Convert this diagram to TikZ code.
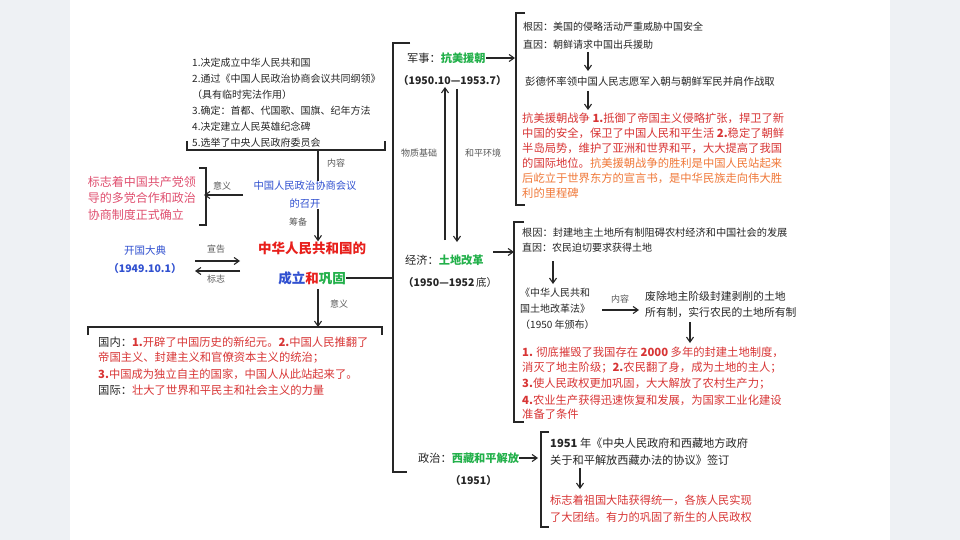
\documentclass[tikz,border=0pt]{standalone}
\usepackage{fontspec}
\setmainfont{Liberation Serif}
\newfontfamily\cjk{Noto Sans CJK SC}
\usetikzlibrary{arrows.meta}
\definecolor{cblue}{HTML}{3050D0}
\definecolor{cred}{HTML}{E8201C}
\definecolor{cpink}{HTML}{E05070}
\definecolor{tred}{HTML}{D83535}
\definecolor{corange}{HTML}{F07838}
\definecolor{cgreen}{HTML}{22B04A}
\definecolor{bgc}{HTML}{EEF1F4}
\begin{document}
\begin{tikzpicture}[x=1pt,y=-1pt,
  t/.style={anchor=west,inner sep=0pt,font=\cjk\fontsize{10}{10}\selectfont,text=black!85},
  r/.style={t,text=tred,font=\cjk\fontsize{11.3}{10}\selectfont},
  lab/.style={inner sep=0pt,font=\cjk\fontsize{9}{10}\selectfont,text=black!65},
  ln/.style={line width=1.1pt,black!85},
  ar/.style={ln,-{Straight Barb[length=5pt,width=7pt]}}]
\useasboundingbox (0,0) rectangle (960,540);
\fill[bgc] (0,0) rectangle (960,540);
\fill[white] (70,0) rectangle (890,540);
% top list
\node[t] (l1) at (192,63) {1.决定成立中华人民共和国};
\node[t] (l2) at (192,79) {2.通过《中国人民政治协商会议共同纲领》};
\node[t] (l3) at (192,95) {（具有临时宪法作用）};
\node[t] (l4) at (192,111) {3.确定：首都、代国歌、国旗、纪年方法};
\node[t] (l5) at (192,127) {4.决定建立人民英雄纪念碑};
\node[t] (l6) at (192,143) {5.选举了中央人民政府委员会};
\draw[ln] (187,141) -- (187,150) -- (385,150) -- (385,141);
\coordinate (b1) at (318,150);
\node[inner sep=0pt,align=center,text=cblue,font=\cjk\fontsize{10.3}{18}\selectfont] (cppcc) at (305,195) {中国人民政治协商会议\\的召开};
\draw[ln] (b1) -- (cppcc.north -| b1);
\node[lab] (nr) at (336,163) {内容};
\coordinate (s1) at (243,195);
\coordinate (s2) at (204,195);
\draw[ar] (s1) -- (s2);
\node[lab] (yy1) at (222,186) {意义};
\draw[ln] (199,168) -- (206,168) -- (206,225) -- (199,225);
\node[anchor=east,inner sep=0pt,align=left,text=cpink,font=\cjk\fontsize{12}{16.5}\selectfont] (sig) at (196,198) {标志着中国共产党领\\导的多党合作和政治\\协商制度正式确立};
\node[inner sep=0pt,text=cred,font=\cjk\bfseries\fontsize{13.5}{15}\selectfont] (prc) at (312,248) {中华人民共和国的};
\draw[ar] (cppcc.south -| b1) -- (prc.north -| b1);
\node[lab] (cb) at (298,222) {筹备};
\node[inner sep=0pt,font=\cjk\bfseries\fontsize{13.5}{15}\selectfont] (cl) at (312,278) {\textcolor{cblue}{成立}\textcolor{cred}{和}\textcolor{cgreen}{巩固}};
\node[inner sep=0pt,align=center,text=cblue,font=\cjk\fontsize{10.5}{18}\selectfont] (kg) at (145,260) {开国大典\\\textbf{（1949.10.1）}};
\coordinate (k1) at (195,261); \coordinate (k2) at (240,261);
\coordinate (k3) at (240,271); \coordinate (k4) at (195,271);
\draw[ar] (k1) -- (k2);
\draw[ar] (k3) -- (k4);
\node[lab] (xg) at (216,249) {宣告};
\node[lab] (bz) at (216,279) {标志};
% meaning below
\coordinate (m0) at (318,289);
\coordinate (m1) at (318,327);
\draw[ar] (m0) -- (m1);
\node[lab] (yy2) at (339,304) {意义};
\draw[ln] (88,335) -- (88,327) -- (382,327) -- (382,335);
\node[r] (g1) at (98,342) {\textcolor{black!85}{国内：}\textbf{1.}开辟了中国历史的新纪元。\textbf{2.}中国人民推翻了};
\node[r] (g2) at (98,358) {帝国主义、封建主义和官僚资本主义的统治；};
\node[r] (g3) at (98,374) {\textbf{3.}中国成为独立自主的国家，中国人从此站起来了。};
\node[r] (g4) at (98,390) {\textcolor{black!85}{国际：}壮大了世界和平民主和社会主义的力量};
% spine
\draw[ln] (cl.east) -- (393,278);
\draw[ln] (410,43) -- (393,43) -- (393,472) -- (407,472);
% military
\node[t,font=\cjk\fontsize{11.2}{11}\selectfont] (js) at (407,58) {军事：\textcolor{cgreen}{\bfseries 抗美援朝}};
\node[t,font=\cjk\bfseries\fontsize{10.5}{11}\selectfont] (jsd) at (398,81) {（1950.10—1953.7）};
\draw[ar] (js.east) -- (515,58);
\draw[ln] (525,13) -- (516,13) -- (516,205) -- (525,205);
\coordinate (u1) at (445,240); \coordinate (u2) at (445,87);
\coordinate (d1) at (457,89); \coordinate (d2) at (457,242);
\draw[ar] (u1) -- (u2);
\draw[ar] (d1) -- (d2);
\node[lab] (wz) at (419,153) {物质基础};
\node[lab] (hp) at (483,153) {和平环境};
\node[t] (a1) at (523,27) {根因：美国的侵略活动严重威胁中国安全};
\node[t] (a2) at (523,45) {直因：朝鲜请求中国出兵援助};
\node[t,font=\cjk\fontsize{10.4}{10}\selectfont] (a3) at (525,82) {彭德怀率领中国人民志愿军入朝与朝鲜军民并肩作战取};
\draw[ar] (588,52) -- (588,71);
\draw[ar] (588,91) -- (588,110);
\node[r] (a4) at (522,118) {抗美援朝战争\textbf{ 1.}抵御了帝国主义侵略扩张，捍卫了新};
\node[r] (a5) at (522,133) {中国的安全，保卫了中国人民和平生活\textbf{ 2.}稳定了朝鲜};
\node[r] (a6) at (522,148) {半岛局势，维护了亚洲和世界和平，大大提高了我国};
\node[r] (a7) at (522,163) {的国际地位。\textcolor{corange}{抗美援朝战争的胜利是中国人民站起来}};
\node[r,text=corange] (a8) at (522,178) {后屹立于世界东方的宣言书，是中华民族走向伟大胜};
\node[r,text=corange] (a9) at (522,193) {利的里程碑};
% economy
\node[t,font=\cjk\fontsize{11.2}{11}\selectfont] (jj) at (405,260) {经济：\textcolor{cgreen}{\bfseries 土地改革}};
\node[t,font=\cjk\bfseries\fontsize{10.5}{11}\selectfont] (jjd) at (403,283) {（1950—1952\,\mdseries 底）};
\draw[ar] (493,252) -- (514,252);
\draw[ln] (524,222) -- (514,222) -- (514,422) -- (524,422);
\node[t,font=\cjk\fontsize{10.2}{10}\selectfont] (e1) at (522,233) {根因：封建地主土地所有制阻碍农村经济和中国社会的发展};
\node[t] (e2) at (522,248) {直因：农民迫切要求获得土地};
\draw[ar] (553,261) -- (553,284);
\node[t,align=left,font=\cjk\fontsize{10}{16}\selectfont] (law) at (520,309) {《中华人民共和\\国土地改革法》\\（1950 年颁布）};
\draw[ar] (602,310) -- (639,310);
\node[lab] (nr2) at (620,299) {内容};
\node[t,align=left,font=\cjk\fontsize{10.8}{16}\selectfont] (fc) at (645,305) {废除地主阶级封建剥削的土地\\所有制，实行农民的土地所有制};
\draw[ar] (690,322) -- (690,343);
\node[r] (e3) at (522,352) {\textbf{1.} 彻底摧毁了我国存在 \textbf{2000} 多年的封建土地制度，};
\node[r] (e4) at (522,368) {消灭了地主阶级；\textbf{2.}农民翻了身，成为土地的主人；};
\node[r] (e5) at (522,384) {\textbf{3.}使人民政权更加巩固，大大解放了农村生产力；};
\node[r] (e6) at (522,400) {\textbf{4.}农业生产获得迅速恢复和发展，为国家工业化建设};
\node[r] (e7) at (522,414) {准备了条件};
% politics
\node[t,font=\cjk\fontsize{11.2}{11}\selectfont] (zz) at (418,458) {政治：\textcolor{cgreen}{\bfseries 西藏和平解放}};
\node[t,font=\cjk\bfseries\fontsize{10.5}{11}\selectfont] (zzd) at (450,481) {（1951）};
\draw[ar] (zz.east) -- (538,458);
\draw[ln] (549,432) -- (541,432) -- (541,527) -- (549,527);
\node[t,align=left,font=\cjk\fontsize{11.2}{17}\selectfont] (xy) at (550,452) {\textbf{1951} 年《中央人民政府和西藏地方政府\\关于和平解放西藏办法的协议》签订};
\draw[ar] (580,468) -- (580,489);
\node[r,align=left,font=\cjk\fontsize{11.2}{17}\selectfont] (xz) at (550,509) {标志着祖国大陆获得统一，各族人民实现\\了大团结。有力的巩固了新生的人民政权};
\end{tikzpicture}
\end{document}
